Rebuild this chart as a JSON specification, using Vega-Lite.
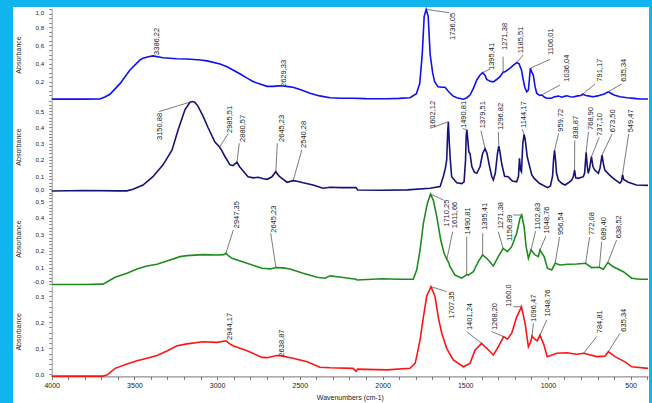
{
"$schema": "https://vega.github.io/schema/vega-lite/v6.json",
"width": 636,
"height": 396,
"autosize": "none",
"padding": {"left": 13, "top": 7, "right": 3, "bottom": 0},
"background": "#12B4EE",
"config": {
  "font": "Liberation Sans",
  "view": {"fill": "#ffffff", "stroke": null},
  "axis": {"grid": false, "labelOverlap": false, "labelBound": false, "labelFontSize": 6.2, "labelColor": "#222222", "titleFontSize": 7, "titleFontWeight": "normal", "titleColor": "#222222", "tickColor": "#888888", "domainColor": "#9a9a9a", "tickSize": 3, "labelPadding": 5}
},
"datasets": {
  "s1": [{"w":4000,"a":0.01},{"w":3800,"a":0.01},{"w":3710,"a":0.011},{"w":3678,"a":0.033},{"w":3648,"a":0.063},{"w":3587,"a":0.18},{"w":3527,"a":0.33},{"w":3466,"a":0.44},{"w":3448,"a":0.46},{"w":3416,"a":0.476},{"w":3388,"a":0.485},{"w":3327,"a":0.465},{"w":3244,"a":0.454},{"w":3182,"a":0.45},{"w":3100,"a":0.44},{"w":3061,"a":0.43},{"w":2982,"a":0.396},{"w":2940,"a":0.366},{"w":2904,"a":0.33},{"w":2860,"a":0.285},{"w":2819,"a":0.24},{"w":2780,"a":0.2},{"w":2741,"a":0.176},{"w":2698,"a":0.15},{"w":2660,"a":0.15},{"w":2629,"a":0.155},{"w":2602,"a":0.154},{"w":2570,"a":0.147},{"w":2541,"a":0.14},{"w":2490,"a":0.11},{"w":2438,"a":0.074},{"w":2380,"a":0.045},{"w":2317,"a":0.025},{"w":2250,"a":0.02},{"w":2178,"a":0.019},{"w":2100,"a":0.015},{"w":1973,"a":0.014},{"w":1900,"a":0.018},{"w":1834,"a":0.025},{"w":1795,"a":0.07},{"w":1775,"a":0.18},{"w":1760,"a":0.5},{"w":1748,"a":0.92},{"w":1736,"a":0.995},{"w":1724,"a":0.92},{"w":1712,"a":0.5},{"w":1697,"a":0.3},{"w":1685,"a":0.2},{"w":1665,"a":0.145},{"w":1640,"a":0.14},{"w":1622,"a":0.14},{"w":1600,"a":0.09},{"w":1575,"a":0.045},{"w":1551,"a":0.025},{"w":1511,"a":0.008},{"w":1490,"a":0.025},{"w":1471,"a":0.055},{"w":1450,"a":0.13},{"w":1430,"a":0.22},{"w":1410,"a":0.275},{"w":1395,"a":0.3},{"w":1380,"a":0.27},{"w":1370,"a":0.227},{"w":1350,"a":0.205},{"w":1330,"a":0.2},{"w":1310,"a":0.225},{"w":1290,"a":0.256},{"w":1271,"a":0.305},{"w":1259,"a":0.31},{"w":1229,"a":0.35},{"w":1210,"a":0.38},{"w":1189,"a":0.41},{"w":1175,"a":0.4},{"w":1160,"a":0.33},{"w":1149,"a":0.22},{"w":1140,"a":0.14},{"w":1128,"a":0.09},{"w":1118,"a":0.11},{"w":1106,"a":0.35},{"w":1096,"a":0.3},{"w":1088,"a":0.27},{"w":1078,"a":0.15},{"w":1068,"a":0.074},{"w":1050,"a":0.05},{"w":1037,"a":0.055},{"w":1020,"a":0.03},{"w":1007,"a":0.019},{"w":980,"a":0.02},{"w":960,"a":0.035},{"w":945,"a":0.04},{"w":937,"a":0.044},{"w":915,"a":0.03},{"w":900,"a":0.04},{"w":886,"a":0.047},{"w":865,"a":0.035},{"w":847,"a":0.033},{"w":820,"a":0.045},{"w":800,"a":0.05},{"w":791,"a":0.063},{"w":770,"a":0.05},{"w":740,"a":0.04},{"w":726,"a":0.036},{"w":700,"a":0.045},{"w":660,"a":0.065},{"w":640,"a":0.085},{"w":635,"a":0.09},{"w":620,"a":0.075},{"w":600,"a":0.055},{"w":565,"a":0.036},{"w":520,"a":0.025},{"w":480,"a":0.018},{"w":444,"a":0.011},{"w":395,"a":0.011}],
  "s2": [{"w":4000,"a":0.009},{"w":3800,"a":0.012},{"w":3600,"a":0.01},{"w":3545,"a":0.01},{"w":3508,"a":0.02},{"w":3448,"a":0.046},{"w":3388,"a":0.097},{"w":3327,"a":0.17},{"w":3273,"a":0.26},{"w":3236,"a":0.385},{"w":3194,"a":0.51},{"w":3164,"a":0.555},{"w":3150,"a":0.56},{"w":3135,"a":0.555},{"w":3115,"a":0.53},{"w":3085,"a":0.47},{"w":3055,"a":0.4},{"w":3013,"a":0.31},{"w":2985,"a":0.28},{"w":2970,"a":0.255},{"w":2952,"a":0.22},{"w":2922,"a":0.17},{"w":2904,"a":0.165},{"w":2880,"a":0.186},{"w":2865,"a":0.16},{"w":2849,"a":0.14},{"w":2813,"a":0.097},{"w":2780,"a":0.09},{"w":2752,"a":0.094},{"w":2720,"a":0.085},{"w":2698,"a":0.081},{"w":2670,"a":0.095},{"w":2645,"a":0.128},{"w":2625,"a":0.1},{"w":2608,"a":0.087},{"w":2577,"a":0.063},{"w":2540,"a":0.073},{"w":2510,"a":0.068},{"w":2480,"a":0.06},{"w":2420,"a":0.046},{"w":2360,"a":0.026},{"w":2317,"a":0.032},{"w":2250,"a":0.03},{"w":2160,"a":0.03},{"w":2150,"a":0.015},{"w":2000,"a":0.014},{"w":1850,"a":0.016},{"w":1713,"a":0.026},{"w":1652,"a":0.036},{"w":1632,"a":0.1},{"w":1620,"a":0.15},{"w":1612,"a":0.2},{"w":1606,"a":0.37},{"w":1602,"a":0.435},{"w":1596,"a":0.3},{"w":1590,"a":0.2},{"w":1582,"a":0.097},{"w":1551,"a":0.06},{"w":1521,"a":0.055},{"w":1507,"a":0.066},{"w":1498,"a":0.2},{"w":1494,"a":0.35},{"w":1490,"a":0.385},{"w":1485,"a":0.33},{"w":1478,"a":0.25},{"w":1471,"a":0.24},{"w":1460,"a":0.16},{"w":1445,"a":0.125},{"w":1430,"a":0.118},{"w":1410,"a":0.16},{"w":1395,"a":0.24},{"w":1380,"a":0.27},{"w":1368,"a":0.24},{"w":1355,"a":0.17},{"w":1340,"a":0.1},{"w":1330,"a":0.077},{"w":1318,"a":0.12},{"w":1305,"a":0.24},{"w":1297,"a":0.285},{"w":1290,"a":0.25},{"w":1280,"a":0.18},{"w":1262,"a":0.1},{"w":1240,"a":0.097},{"w":1215,"a":0.07},{"w":1189,"a":0.066},{"w":1178,"a":0.1},{"w":1172,"a":0.21},{"w":1166,"a":0.14},{"w":1160,"a":0.128},{"w":1152,"a":0.3},{"w":1144,"a":0.358},{"w":1138,"a":0.33},{"w":1125,"a":0.22},{"w":1113,"a":0.17},{"w":1098,"a":0.11},{"w":1083,"a":0.087},{"w":1052,"a":0.057},{"w":1002,"a":0.03},{"w":985,"a":0.04},{"w":972,"a":0.1},{"w":966,"a":0.2},{"w":960,"a":0.26},{"w":954,"a":0.2},{"w":948,"a":0.12},{"w":937,"a":0.077},{"w":915,"a":0.055},{"w":897,"a":0.046},{"w":876,"a":0.06},{"w":856,"a":0.077},{"w":846,"a":0.1},{"w":839,"a":0.138},{"w":832,"a":0.09},{"w":816,"a":0.087},{"w":786,"a":0.097},{"w":778,"a":0.12},{"w":769,"a":0.247},{"w":762,"a":0.16},{"w":756,"a":0.118},{"w":748,"a":0.15},{"w":737,"a":0.22},{"w":728,"a":0.16},{"w":717,"a":0.138},{"w":695,"a":0.118},{"w":685,"a":0.15},{"w":673,"a":0.23},{"w":665,"a":0.18},{"w":656,"a":0.138},{"w":630,"a":0.11},{"w":605,"a":0.087},{"w":565,"a":0.057},{"w":555,"a":0.07},{"w":549,"a":0.11},{"w":542,"a":0.08},{"w":514,"a":0.063},{"w":465,"a":0.046},{"w":395,"a":0.044}],
  "s3": [{"w":4000,"a":-0.002},{"w":3800,"a":-0.002},{"w":3690,"a":0.0},{"w":3666,"a":0.013},{"w":3617,"a":0.042},{"w":3545,"a":0.066},{"w":3484,"a":0.092},{"w":3424,"a":0.11},{"w":3363,"a":0.12},{"w":3303,"a":0.14},{"w":3224,"a":0.166},{"w":3182,"a":0.172},{"w":3085,"a":0.178},{"w":3001,"a":0.176},{"w":2960,"a":0.178},{"w":2947,"a":0.186},{"w":2930,"a":0.17},{"w":2910,"a":0.156},{"w":2819,"a":0.126},{"w":2728,"a":0.096},{"w":2680,"a":0.092},{"w":2644,"a":0.1},{"w":2600,"a":0.098},{"w":2559,"a":0.092},{"w":2480,"a":0.066},{"w":2396,"a":0.042},{"w":2348,"a":0.036},{"w":2317,"a":0.05},{"w":2250,"a":0.042},{"w":2160,"a":0.03},{"w":2154,"a":0.025},{"w":2000,"a":0.033},{"w":1900,"a":0.03},{"w":1814,"a":0.03},{"w":1793,"a":0.086},{"w":1773,"a":0.206},{"w":1753,"a":0.367},{"w":1729,"a":0.487},{"w":1710,"a":0.543},{"w":1693,"a":0.507},{"w":1672,"a":0.407},{"w":1648,"a":0.266},{"w":1628,"a":0.186},{"w":1611,"a":0.15},{"w":1600,"a":0.13},{"w":1592,"a":0.105},{"w":1562,"a":0.055},{"w":1521,"a":0.036},{"w":1491,"a":0.058},{"w":1481,"a":0.055},{"w":1451,"a":0.075},{"w":1421,"a":0.136},{"w":1395,"a":0.176},{"w":1370,"a":0.156},{"w":1330,"a":0.11},{"w":1300,"a":0.166},{"w":1271,"a":0.216},{"w":1245,"a":0.196},{"w":1219,"a":0.226},{"w":1189,"a":0.307},{"w":1169,"a":0.397},{"w":1158,"a":0.417},{"w":1144,"a":0.346},{"w":1132,"a":0.226},{"w":1118,"a":0.156},{"w":1102,"a":0.206},{"w":1078,"a":0.176},{"w":1058,"a":0.166},{"w":1048,"a":0.206},{"w":1023,"a":0.166},{"w":1003,"a":0.096},{"w":977,"a":0.086},{"w":956,"a":0.126},{"w":927,"a":0.116},{"w":880,"a":0.12},{"w":826,"a":0.122},{"w":772,"a":0.126},{"w":736,"a":0.1},{"w":689,"a":0.102},{"w":665,"a":0.09},{"w":638,"a":0.13},{"w":605,"a":0.105},{"w":544,"a":0.075},{"w":493,"a":0.036},{"w":444,"a":0.03},{"w":395,"a":0.03}],
  "s4": [{"w":4000,"a":-0.007},{"w":3800,"a":-0.007},{"w":3690,"a":-0.007},{"w":3666,"a":-0.003},{"w":3617,"a":0.023},{"w":3545,"a":0.04},{"w":3484,"a":0.052},{"w":3424,"a":0.062},{"w":3363,"a":0.072},{"w":3303,"a":0.09},{"w":3242,"a":0.11},{"w":3182,"a":0.117},{"w":3085,"a":0.125},{"w":3001,"a":0.123},{"w":2946,"a":0.129},{"w":2930,"a":0.12},{"w":2904,"a":0.11},{"w":2819,"a":0.091},{"w":2728,"a":0.065},{"w":2698,"a":0.064},{"w":2638,"a":0.072},{"w":2619,"a":0.072},{"w":2541,"a":0.062},{"w":2456,"a":0.048},{"w":2378,"a":0.027},{"w":2317,"a":0.025},{"w":2178,"a":0.023},{"w":2160,"a":0.012},{"w":2150,"a":0.02},{"w":1973,"a":0.017},{"w":1834,"a":0.023},{"w":1803,"a":0.042},{"w":1793,"a":0.07},{"w":1773,"a":0.132},{"w":1753,"a":0.22},{"w":1733,"a":0.3},{"w":1707,"a":0.337},{"w":1683,"a":0.3},{"w":1663,"a":0.22},{"w":1642,"a":0.158},{"w":1612,"a":0.1},{"w":1572,"a":0.055},{"w":1511,"a":0.029},{"w":1471,"a":0.042},{"w":1441,"a":0.093},{"w":1401,"a":0.119},{"w":1370,"a":0.1},{"w":1330,"a":0.074},{"w":1300,"a":0.106},{"w":1268,"a":0.145},{"w":1245,"a":0.135},{"w":1219,"a":0.158},{"w":1189,"a":0.22},{"w":1160,"a":0.26},{"w":1138,"a":0.196},{"w":1118,"a":0.106},{"w":1104,"a":0.125},{"w":1096,"a":0.147},{"w":1080,"a":0.135},{"w":1064,"a":0.129},{"w":1048,"a":0.151},{"w":1024,"a":0.113},{"w":1004,"a":0.068},{"w":947,"a":0.081},{"w":886,"a":0.083},{"w":826,"a":0.077},{"w":784,"a":0.081},{"w":705,"a":0.068},{"w":655,"a":0.07},{"w":635,"a":0.087},{"w":594,"a":0.068},{"w":534,"a":0.048},{"w":493,"a":0.029},{"w":395,"a":0.023}],
  "t1": [{"t":"3386,22","w":3365,"a":0.495},{"t":"2629,33","w":2596,"a":0.143},{"t":"1736,05","w":1572,"a":0.659},{"t":"1395,41","w":1340,"a":0.33},{"t":"1271,38","w":1259,"a":0.549},{"t":"1185,51","w":1163,"a":0.513},{"t":"1106,01","w":981,"a":0.495},{"t":"1036,04","w":886,"a":0.201},{"t":"791,17","w":685,"a":0.201},{"t":"635,34","w":540,"a":0.201}],
  "r1": [{"w":1736,"a":0.995,"w2":1598,"a2":0.96},{"w":1395,"a":0.3,"w2":1350,"a2":0.34},{"w":1271,"a":0.305,"w2":1271,"a2":0.476},{"w":1189,"a":0.41,"w2":1150,"a2":0.495},{"w":1106,"a":0.35,"w2":987,"a2":0.447},{"w":1037,"a":0.055,"w2":927,"a2":0.165},{"w":791,"a":0.063,"w2":715,"a2":0.176},{"w":635,"a":0.09,"w2":554,"a2":0.176}],
  "t2": [{"t":"3150,88","w":3345,"a":0.323},{"t":"2985,51","w":2922,"a":0.366},{"t":"2880,57","w":2842,"a":0.311},{"t":"2645,23","w":2609,"a":0.311},{"t":"2540,28","w":2475,"a":0.274},{"t":"1602,12","w":1693,"a":0.397},{"t":"1490,81","w":1508,"a":0.397},{"t":"1379,51","w":1395,"a":0.395},{"t":"1296,82","w":1284,"a":0.385},{"t":"1144,17","w":1147,"a":0.397},{"t":"959,72","w":921,"a":0.374},{"t":"838,87","w":830,"a":0.33},{"t":"768,90","w":741,"a":0.385},{"t":"737,10","w":685,"a":0.348},{"t":"673,50","w":605,"a":0.37},{"t":"549,47","w":498,"a":0.37}],
  "r2": [{"w":3150,"a":0.56,"w2":3351,"a2":0.498},{"w":2985,"a":0.28,"w2":2932,"a2":0.364},{"w":2880,"a":0.186,"w2":2866,"a2":0.303},{"w":2645,"a":0.128,"w2":2636,"a2":0.303},{"w":2540,"a":0.073,"w2":2488,"a2":0.262},{"w":1602,"a":0.435,"w2":1713,"a2":0.395},{"w":1490,"a":0.385,"w2":1515,"a2":0.394},{"w":1380,"a":0.27,"w2":1405,"a2":0.38},{"w":1297,"a":0.285,"w2":1300,"a2":0.374},{"w":1144,"a":0.358,"w2":1155,"a2":0.39},{"w":960,"a":0.26,"w2":935,"a2":0.364},{"w":839,"a":0.138,"w2":838,"a2":0.32},{"w":769,"a":0.247,"w2":755,"a2":0.374},{"w":737,"a":0.22,"w2":690,"a2":0.34},{"w":673,"a":0.23,"w2":612,"a2":0.36},{"w":549,"a":0.11,"w2":512,"a2":0.36}],
  "t3": [{"t":"2947,35","w":2878,"a":0.337},{"t":"2645,23","w":2656,"a":0.31},{"t":"1710,25","w":1612,"a":0.346},{"t":"1611,66","w":1560,"a":0.337},{"t":"1490,81","w":1483,"a":0.3},{"t":"1395,41","w":1382,"a":0.327},{"t":"1271,38","w":1285,"a":0.332},{"t":"1156,89","w":1231,"a":0.26},{"t":"1102,83","w":1063,"a":0.33},{"t":"1048,76","w":1003,"a":0.305},{"t":"956,54","w":921,"a":0.296},{"t":"772,08","w":733,"a":0.296},{"t":"689,40","w":663,"a":0.266},{"t":"638,52","w":571,"a":0.277}],
  "r3": [{"w":2947,"a":0.186,"w2":2902,"a2":0.327},{"w":2644,"a":0.1,"w2":2676,"a2":0.307},{"w":1710,"a":0.543,"w2":1632,"a2":0.507},{"w":1611,"a":0.15,"w2":1576,"a2":0.316},{"w":1491,"a":0.058,"w2":1491,"a2":0.286},{"w":1395,"a":0.176,"w2":1394,"a2":0.307},{"w":1271,"a":0.216,"w2":1300,"a2":0.316},{"w":1158,"a":0.417,"w2":1209,"a2":0.417},{"w":1102,"a":0.206,"w2":1075,"a2":0.32},{"w":1048,"a":0.206,"w2":1012,"a2":0.29},{"w":956,"a":0.126,"w2":930,"a2":0.284},{"w":772,"a":0.126,"w2":748,"a2":0.284},{"w":689,"a":0.102,"w2":675,"a2":0.256},{"w":638,"a":0.13,"w2":585,"a2":0.266}],
  "t4": [{"t":"2944,17","w":2922,"a":0.132},{"t":"2638,87","w":2609,"a":0.068},{"t":"1707,35","w":1582,"a":0.215},{"t":"1401,24","w":1471,"a":0.17},{"t":"1268,20","w":1320,"a":0.17},{"t":"1160,0","w":1233,"a":0.26},{"t":"1096,47","w":1084,"a":0.202},{"t":"1048,76","w":998,"a":0.222},{"t":"784,81","w":685,"a":0.158},{"t":"635,34","w":540,"a":0.164}],
  "r4": [{"w":1707,"a":0.337,"w2":1612,"a2":0.318},{"w":1401,"a":0.119,"w2":1491,"a2":0.164},{"w":1268,"a":0.145,"w2":1340,"a2":0.164},{"w":1160,"a":0.26,"w2":1209,"a2":0.26},{"w":1096,"a":0.147,"w2":1088,"a2":0.196},{"w":1048,"a":0.151,"w2":1007,"a2":0.209},{"w":784,"a":0.081,"w2":705,"a2":0.145},{"w":635,"a":0.087,"w2":564,"a2":0.158}]
},
"encoding": {
  "x": {"field": "w", "type": "quantitative",
    "scale": {"domain": [4000, 395], "range": [38.7, 635], "nice": false, "zero": false},
    "axis": {"orient": "bottom", "offset": -26.6, "values": [400,500,600,700,800,900,1000,1100,1200,1300,1400,1500,1600,1700,1800,1900,2000,2100,2200,2300,2400,2500,2600,2700,2800,2900,3000,3100,3200,3300,3400,3500,3600,3700,3800,3900,4000], "labelExpr": "datum.value % 500 === 0 ? format(datum.value, 'd') : ''", "labelFlush": false, "title": "Wavenumbers (cm-1)", "tickSize": 3, "labelPadding": 2, "titlePadding": 5, "labelFontSize": 7, "titleFontSize": 7, "domainColor": "#777777", "tickColor": "#777777"}}
},
"layer": [
  {
    "encoding": {"y": {"field": "a", "type": "quantitative", "scale": {"domain": [0, 1], "range": [93, 2], "nice": false, "zero": false},
      "axis": {"orient": "left", "offset": -38.7, "values": [0.05,0.1,0.15,0.2,0.25,0.3,0.35,0.4,0.45,0.5,0.55,0.6,0.65,0.7,0.75,0.8,0.85,0.9,0.95,1], "labelExpr": "(datum.value > 0.1 && abs(datum.value * 5 - round(datum.value * 5)) < 0.01) ? replace(format(datum.value, '.1f'), '.', ',') : ''", "labelFlush": 1, "title": "Absorbance", "titleX": -30}}},
    "layer": [
      {"data": {"name": "s1"}, "mark": {"type": "line", "color": "#1010F0", "strokeWidth": 1.6}},
      {"data": {"name": "r1"}, "mark": {"type": "rule", "color": "#444444", "strokeWidth": 0.7}, "encoding": {"x2": {"field": "w2"}, "y2": {"field": "a2"}}},
      {"data": {"name": "t1"}, "mark": {"type": "text", "angle": 270, "align": "left", "baseline": "middle", "fontSize": 7.5, "color": "#222222"}, "encoding": {"text": {"field": "t"}}},
      {"data": {"values": [{}]}, "mark": {"type": "text", "align": "left", "baseline": "middle", "fontSize": 7, "color": "#111111", "text": "MALIC ACID"}, "encoding": {"x": {"datum": 3990}, "y": {"datum": 0.942}}},
      {"data": {"values": [{}]}, "mark": {"type": "rule", "color": "#bbbbbb", "strokeWidth": 1}, "encoding": {"x": {"datum": 4000}, "x2": {"datum": 395}, "y": {"datum": 0}}}
    ]
  },
  {
    "encoding": {"y": {"field": "a", "type": "quantitative", "scale": {"domain": [0, 0.566], "range": [185.5, 93.5], "nice": false, "zero": false},
      "axis": {"orient": "left", "offset": -38.7, "values": [0,0.02,0.04,0.06,0.08,0.1,0.12,0.14,0.16,0.18,0.2,0.22,0.24,0.26,0.28,0.3,0.32,0.34,0.36,0.38,0.4,0.42,0.44,0.46,0.48,0.5,0.52,0.54,0.56], "labelExpr": "abs(datum.value * 10 - round(datum.value * 10)) < 0.01 ? replace(format(datum.value, '.1f'), '.', ',') : ''", "labelFlush": 1, "title": "Absorbance", "titleX": -30}}},
    "layer": [
      {"data": {"name": "s2"}, "mark": {"type": "line", "color": "#141478", "strokeWidth": 1.6}},
      {"data": {"name": "r2"}, "mark": {"type": "rule", "color": "#444444", "strokeWidth": 0.7}, "encoding": {"x2": {"field": "w2"}, "y2": {"field": "a2"}}},
      {"data": {"name": "t2"}, "mark": {"type": "text", "angle": 270, "align": "left", "baseline": "middle", "fontSize": 7.5, "color": "#222222"}, "encoding": {"text": {"field": "t"}}},
      {"data": {"values": [{}]}, "mark": {"type": "text", "align": "left", "baseline": "middle", "fontSize": 7, "color": "#111111", "text": "rezorcin"}, "encoding": {"x": {"datum": 3990}, "y": {"datum": 0.518}}},
      {"data": {"values": [{}]}, "mark": {"type": "rule", "color": "#bbbbbb", "strokeWidth": 1}, "encoding": {"x": {"datum": 4000}, "x2": {"datum": 395}, "y": {"datum": 0}}}
    ]
  },
  {
    "encoding": {"y": {"field": "a", "type": "quantitative", "scale": {"domain": [-0.005, 0.555], "range": [278, 185.1], "nice": false, "zero": false},
      "axis": {"orient": "left", "offset": -38.7, "values": [0,0.02,0.04,0.06,0.08,0.1,0.12,0.14,0.16,0.18,0.2,0.22,0.24,0.26,0.28,0.3,0.32,0.34,0.36,0.38,0.4,0.42,0.44,0.46,0.48,0.5,0.52,0.54], "labelExpr": "datum.value === 0 ? '-0,0' : (abs(datum.value * 10 - round(datum.value * 10)) < 0.01 ? replace(format(datum.value, '.1f'), '.', ',') : '')", "labelFlush": 1, "title": "Absorbance", "titleX": -30}}},
    "layer": [
      {"data": {"name": "s3"}, "mark": {"type": "line", "color": "#1E8C1E", "strokeWidth": 1.6}},
      {"data": {"name": "r3"}, "mark": {"type": "rule", "color": "#444444", "strokeWidth": 0.7}, "encoding": {"x2": {"field": "w2"}, "y2": {"field": "a2"}}},
      {"data": {"name": "t3"}, "mark": {"type": "text", "angle": 270, "align": "left", "baseline": "middle", "fontSize": 7.5, "color": "#222222"}, "encoding": {"text": {"field": "t"}}},
      {"data": {"values": [{}]}, "mark": {"type": "text", "align": "left", "baseline": "middle", "fontSize": 7, "color": "#111111", "text": "TI-A-033"}, "encoding": {"x": {"datum": 3990}, "y": {"datum": 0.507}}},
      {"data": {"values": [{}]}, "mark": {"type": "rule", "color": "#bbbbbb", "strokeWidth": 1}, "encoding": {"x": {"datum": 4000}, "x2": {"datum": 395}, "y": {"datum": -0.005}}}
    ]
  },
  {
    "encoding": {"y": {"field": "a", "type": "quantitative", "scale": {"domain": [-0.008, 0.338], "range": [369.4, 279.4], "nice": false, "zero": false},
      "axis": {"orient": "left", "offset": -38.7, "values": [0,0.02,0.04,0.06,0.08,0.1,0.12,0.14,0.16,0.18,0.2,0.22,0.24,0.26,0.28,0.3,0.32], "labelExpr": "abs(datum.value * 10 - round(datum.value * 10)) < 0.01 ? replace(format(datum.value, '.1f'), '.', ',') : ''", "labelFlush": 1, "title": "Absorbance", "titleX": -30}}},
    "layer": [
      {"data": {"name": "s4"}, "mark": {"type": "line", "color": "#FF1414", "strokeWidth": 1.6}},
      {"data": {"name": "r4"}, "mark": {"type": "rule", "color": "#444444", "strokeWidth": 0.7}, "encoding": {"x2": {"field": "w2"}, "y2": {"field": "a2"}}},
      {"data": {"name": "t4"}, "mark": {"type": "text", "angle": 270, "align": "left", "baseline": "middle", "fontSize": 7.5, "color": "#222222"}, "encoding": {"text": {"field": "t"}}},
      {"data": {"values": [{}]}, "mark": {"type": "text", "align": "left", "baseline": "middle", "fontSize": 7, "color": "#111111", "text": "TI-A-025 polialmasav"}, "encoding": {"x": {"datum": 3990}, "y": {"datum": 0.314}}}
    ]
  }
],
"resolve": {"scale": {"y": "independent"}, "axis": {"y": "independent"}}
}
